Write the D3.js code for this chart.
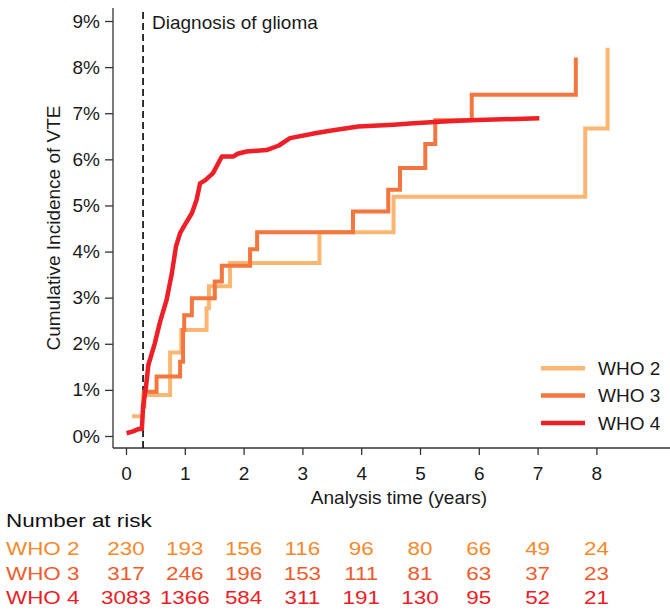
<!DOCTYPE html>
<html>
<head>
<meta charset="utf-8">
<script src="https://cdn.jsdelivr.net/npm/d3@7"></script>
<style>
  body { margin: 0; background: #fff; }
  svg text { font-family: "Liberation Sans", Arial, sans-serif; }
</style>
</head>
<body>
<div class="chart"></div>
<script>
var width = 670, height = 613

// series: [time in years, cumulative incidence %]
var who2 = [[0.10, 0.43], [0.29, 0.89], [0.75, 1.81], [0.94, 2.30], [1.37, 2.77], [1.41, 3.25],
    [1.77, 3.75], [3.29, 4.42], [4.55, 5.19], [7.81, 6.67], [8.19, 8.42]]
var who3 = [[0.29, 0.64], [0.31, 0.96], [0.52, 1.29], [0.92, 1.61], [0.97, 2.30], [0.99, 2.62],
    [1.12, 2.99], [1.51, 3.35], [1.63, 3.69], [2.11, 4.05], [2.23, 4.42], [3.86, 4.87],
    [4.46, 5.34], [4.66, 5.81], [5.09, 6.33], [5.26, 6.85], [5.88, 7.40], [7.65, 8.21]]
var who4 = [[0.01, 0.06], [0.12, 0.10], [0.21, 0.15], [0.27, 0.15], [0.29, 0.64], [0.34, 1.07],
    [0.38, 1.54], [0.49, 2.01], [0.58, 2.48], [0.69, 2.95], [0.78, 3.53], [0.85, 4.11],
    [0.92, 4.40], [1.00, 4.58], [1.12, 4.83], [1.20, 5.12], [1.26, 5.48], [1.35, 5.55],
    [1.48, 5.70], [1.63, 6.06], [1.82, 6.06], [1.90, 6.12], [2.05, 6.17], [2.39, 6.20],
    [2.60, 6.30], [2.79, 6.46], [3.24, 6.57], [3.47, 6.62], [3.95, 6.71], [4.55, 6.75],
    [4.89, 6.78], [5.40, 6.82], [5.85, 6.85], [7.03, 6.89]]

var groups = ["WHO 2", "WHO 3", "WHO 4"]
var lineColors = ["#fdb672", "#f4763f", "#ee1f27"]
var textColors = ["#f7892b", "#f15a2b", "#ed1c24"]

var xTicks = [0, 1, 2, 3, 4, 5, 6, 7, 8]
var yTicks = [0, 1, 2, 3, 4, 5, 6, 7, 8, 9]
var atRisk = [
    [230, 193, 156, 116, 96, 80, 66, 49, 24],
    [317, 246, 196, 153, 111, 81, 63, 37, 23],
    [3083, 1366, 584, 311, 191, 130, 95, 52, 21]
]
var diagnosisTime = 0.29

var x = d3.scaleLinear().domain([0, 8]).range([126, 596.4])
var y = d3.scaleLinear().domain([0, 9]).range([436, 21])

const svg = d3.select(".chart")
    .append("svg")
    .attr("width", width)
    .attr("height", height)

// axes
var yAxis = svg.append("g")
    .attr("transform", "translate(113,0)")
    .call(d3.axisLeft(y).tickValues(yTicks).tickFormat(function(d){ return d + "%" }).tickSize(8).tickPadding(5))
yAxis.select(".domain").remove()

var xAxis = svg.append("g")
    .attr("transform", "translate(0,448)")
    .call(d3.axisBottom(x).tickValues(xTicks).tickFormat(d3.format("d")).tickSize(7).tickPadding(12))
xAxis.select(".domain").remove()

svg.selectAll(".tick line").attr("stroke", "#333").attr("stroke-width", 1.3)
svg.selectAll(".tick text").attr("font-size", 19).attr("fill", "#1a1a1a")

svg.append("line")
    .attr("x1", 113).attr("x2", 113).attr("y1", 8).attr("y2", 448)
    .attr("stroke", "#333").attr("stroke-width", 1.3)
svg.append("line")
    .attr("x1", 113).attr("x2", 670).attr("y1", 448).attr("y2", 448)
    .attr("stroke", "#333").attr("stroke-width", 1.3)

// axis titles
svg.append("text")
    .attr("transform", "translate(53,228) rotate(-90)")
    .attr("text-anchor", "middle")
    .attr("dy", "0.35em")
    .attr("font-size", 19)
    .attr("fill", "#1a1a1a")
    .text("Cumulative Incidence of VTE")

svg.append("text")
    .attr("x", 399).attr("y", 504)
    .attr("text-anchor", "middle")
    .attr("font-size", 19)
    .attr("fill", "#1a1a1a")
    .text("Analysis time (years)")

// diagnosis marker
svg.append("line")
    .attr("x1", x(diagnosisTime)).attr("x2", x(diagnosisTime))
    .attr("y1", 12).attr("y2", 448)
    .attr("stroke", "#111").attr("stroke-width", 1.7)
    .attr("stroke-dasharray", "7,4")
svg.append("text")
    .attr("x", 152).attr("y", 28.5)
    .attr("font-size", 19)
    .attr("fill", "#1a1a1a")
    .text("Diagnosis of glioma")

// curves
var stepLine = d3.line()
    .x(function(d){ return x(d[0]) })
    .y(function(d){ return y(d[1]) })
    .curve(d3.curveStepAfter)
var smoothLine = d3.line()
    .x(function(d){ return x(d[0]) })
    .y(function(d){ return y(d[1]) })

svg.append("path").attr("d", stepLine(who2))
    .attr("fill", "none").attr("stroke", lineColors[0]).attr("stroke-width", 4)
svg.append("path").attr("d", stepLine(who3))
    .attr("fill", "none").attr("stroke", lineColors[1]).attr("stroke-width", 4)
svg.append("path").attr("d", smoothLine(who4))
    .attr("fill", "none").attr("stroke", lineColors[2]).attr("stroke-width", 4.5)
    .attr("stroke-linejoin", "round")

// legend
var legend = svg.append("g")
    .selectAll("g")
    .data(groups)
    .enter()
    .append("g")
    .attr("transform", function(d, i){ return "translate(0," + (368.3 + i * 27.3) + ")" })
legend.append("line")
    .attr("x1", 541).attr("x2", 585)
    .attr("stroke", function(d, i){ return lineColors[i] })
    .attr("stroke-width", 4.5)
legend.append("text")
    .attr("x", 598).attr("dy", "0.35em")
    .attr("font-size", 19)
    .attr("fill", "#1a1a1a")
    .text(function(d){ return d })

// number at risk table
svg.append("text")
    .attr("transform", "translate(6,527) scale(1.18,1)")
    .attr("font-size", 19)
    .attr("fill", "#111")
    .text("Number at risk")

var rowY = [555, 579.5, 604]
groups.forEach(function(g, i){
    svg.append("text")
        .attr("transform", "translate(6," + rowY[i] + ") scale(1.18,1)")
        .attr("font-size", 19)
        .attr("fill", textColors[i])
        .text(g)
    svg.append("g")
        .selectAll("text")
        .data(atRisk[i])
        .enter()
        .append("text")
        .attr("transform", function(d, j){ return "translate(" + x(xTicks[j]) + "," + rowY[i] + ") scale(1.18,1)" })
        .attr("text-anchor", "middle")
        .attr("font-size", 19)
        .attr("fill", textColors[i])
        .text(function(d){ return d })
})
</script>
</body>
</html>
